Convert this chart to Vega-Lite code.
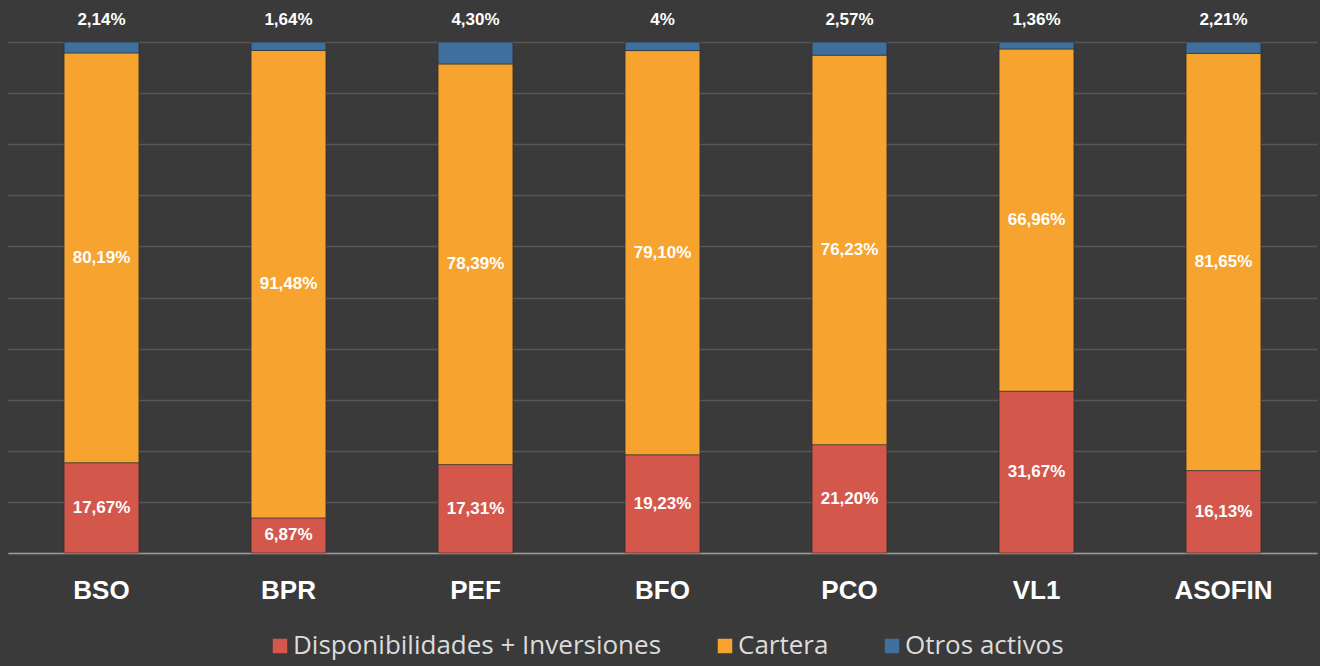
{
  "$schema": "https://vega.github.io/schema/vega-lite/v6.json",
  "autosize": {"type": "none"},
  "width": 1309,
  "height": 511,
  "padding": {"left": 8, "top": 42, "right": 3, "bottom": 113},
  "background": "#3a3a3a",
  "config": {
    "view": {"stroke": null},
    "font": "Liberation Sans"
  },
  "data": {
    "values": [
      {"bank": "BSO", "series": "Disponibilidades + Inversiones", "k": 1, "value": 17.67, "label": "17,67%"},
      {"bank": "BSO", "series": "Cartera", "k": 2, "value": 80.19, "label": "80,19%"},
      {"bank": "BSO", "series": "Otros activos", "k": 3, "value": 2.14, "label": "2,14%"},
      {"bank": "BPR", "series": "Disponibilidades + Inversiones", "k": 1, "value": 6.87, "label": "6,87%"},
      {"bank": "BPR", "series": "Cartera", "k": 2, "value": 91.48, "label": "91,48%"},
      {"bank": "BPR", "series": "Otros activos", "k": 3, "value": 1.64, "label": "1,64%"},
      {"bank": "PEF", "series": "Disponibilidades + Inversiones", "k": 1, "value": 17.31, "label": "17,31%"},
      {"bank": "PEF", "series": "Cartera", "k": 2, "value": 78.39, "label": "78,39%"},
      {"bank": "PEF", "series": "Otros activos", "k": 3, "value": 4.30, "label": "4,30%"},
      {"bank": "BFO", "series": "Disponibilidades + Inversiones", "k": 1, "value": 19.23, "label": "19,23%"},
      {"bank": "BFO", "series": "Cartera", "k": 2, "value": 79.10, "label": "79,10%"},
      {"bank": "BFO", "series": "Otros activos", "k": 3, "value": 1.67, "label": "4%"},
      {"bank": "PCO", "series": "Disponibilidades + Inversiones", "k": 1, "value": 21.20, "label": "21,20%"},
      {"bank": "PCO", "series": "Cartera", "k": 2, "value": 76.23, "label": "76,23%"},
      {"bank": "PCO", "series": "Otros activos", "k": 3, "value": 2.57, "label": "2,57%"},
      {"bank": "VL1", "series": "Disponibilidades + Inversiones", "k": 1, "value": 31.67, "label": "31,67%"},
      {"bank": "VL1", "series": "Cartera", "k": 2, "value": 66.96, "label": "66,96%"},
      {"bank": "VL1", "series": "Otros activos", "k": 3, "value": 1.36, "label": "1,36%"},
      {"bank": "ASOFIN", "series": "Disponibilidades + Inversiones", "k": 1, "value": 16.13, "label": "16,13%"},
      {"bank": "ASOFIN", "series": "Cartera", "k": 2, "value": 81.65, "label": "81,65%"},
      {"bank": "ASOFIN", "series": "Otros activos", "k": 3, "value": 2.21, "label": "2,21%"}
    ]
  },
  "encoding": {
    "x": {
      "field": "bank", "type": "nominal", "sort": null,
      "scale": {"paddingInner": 0.6, "paddingOuter": 0.3},
      "axis": {
        "title": null, "labelAngle": 0, "labelFontSize": 26, "labelFontWeight": "bold",
        "labelColor": "#ffffff", "labelPadding": 24, "ticks": false,
        "domainColor": "#9a9a9a", "domainWidth": 1.5, "grid": false
      }
    }
  },
  "layer": [
    {
      "mark": {"type": "bar", "stroke": "#2e2e2e", "strokeWidth": 0.6},
      "encoding": {
        "y": {
          "field": "value", "type": "quantitative", "stack": "zero",
          "scale": {"domain": [0, 100], "nice": false},
          "axis": {
            "title": null, "labels": false, "ticks": false, "domain": false,
            "values": [0, 10, 20, 30, 40, 50, 60, 70, 80, 90, 100],
            "grid": true, "gridColor": "#575757", "gridWidth": 1.5
          }
        },
        "color": {
          "field": "series", "type": "nominal",
          "scale": {
            "domain": ["Disponibilidades + Inversiones", "Cartera", "Otros activos"],
            "range": ["#d4574c", "#f6a330", "#3f6f9c"]
          },
          "legend": {
            "title": null, "orient": "none", "direction": "horizontal",
            "legendX": 259, "legendY": 591,
            "symbolType": "square", "symbolSize": 210, "symbolStrokeWidth": 0,
            "labelFont": "Open Sans", "labelFontSize": 26, "labelColor": "#dcdcdc",
            "columnPadding": 50, "labelOffset": 0, "labelLimit": 500
          }
        },
        "order": {"field": "k", "type": "quantitative"}
      }
    },
    {
      "transform": [
        {"stack": "value", "groupby": ["bank"], "sort": [{"field": "k"}], "as": ["v0", "v1"]},
        {"filter": "datum.k < 3"},
        {"calculate": "(datum.v0 + datum.v1) / 2", "as": "mid"}
      ],
      "mark": {"type": "text", "color": "#ffffff", "fontSize": 17, "fontWeight": "bold", "baseline": "middle"},
      "encoding": {
        "y": {"field": "mid", "type": "quantitative"},
        "text": {"field": "label"}
      }
    },
    {
      "transform": [{"filter": "datum.k == 3"}],
      "mark": {"type": "text", "color": "#ffffff", "fontSize": 17, "fontWeight": "bold", "baseline": "middle", "dy": -22},
      "encoding": {
        "y": {"datum": 100, "type": "quantitative"},
        "text": {"field": "label"}
      }
    }
  ]
}
